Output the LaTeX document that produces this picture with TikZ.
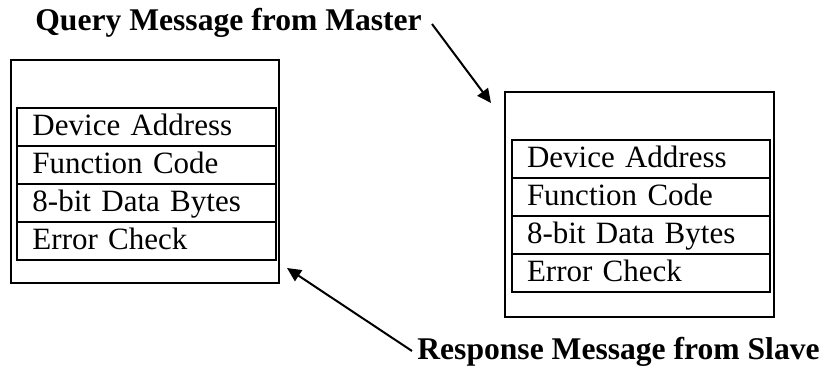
\documentclass[tikz,border=0pt]{standalone}
\usepackage{fontspec}
\setmainfont{Liberation Serif}
\usetikzlibrary{arrows.meta}
\begin{document}
\begin{tikzpicture}[x=0.5pt,y=-0.5pt,
  outerbox/.style={draw, line width=0.9pt, minimum width=#1, anchor=north west, inner sep=0pt},
  rowbox/.style={draw, line width=1pt, anchor=north west, minimum width=129.5pt, minimum height=19pt,
    inner ysep=0pt, inner xsep=7.5pt, text width=114pt, align=left, text height=12pt, text depth=3pt,
    font=\fontsize{15.5}{18}\selectfont},
  title/.style={anchor=base west, inner sep=0pt, font=\fontsize{15.8}{18}\selectfont\bfseries},
  arrowline/.style={line width=1pt, -{Triangle[length=7pt,width=6.5pt]}}]
\useasboundingbox (0,0) rectangle (827,369);
% left message frame
\node[outerbox=134pt, minimum height=111.5pt] (L) at (10,59) {};
\node[rowbox] (L1) at (16,107) {Device Address};
\node[rowbox] (L2) at (16,145) {Function Code};
\node[rowbox] (L3) at (16,183) {8-bit Data Bytes};
\node[rowbox] (L4) at (16,221) {Error Check};
% right message frame
\node[outerbox=134.5pt, minimum height=112.5pt] (R) at (504,91) {};
\node[rowbox, minimum width=129pt] (R1) at (511,139) {Device Address};
\node[rowbox, minimum width=129pt] (R2) at (511,177) {Function Code};
\node[rowbox, minimum width=129pt] (R3) at (511,215) {8-bit Data Bytes};
\node[rowbox, minimum width=129pt] (R4) at (511,253) {Error Check};
% titles
\node[title] (Q) at (35,31) {Query Message from Master};
\node[title] (S) at (417,360) {Response Message from Slave};
% arrows
\coordinate (qs) at (432,24);
\coordinate (qe) at (491,103);
\coordinate (ss) at (412,351);
\coordinate (se) at (287,268);
\draw[arrowline] (qs) -- (qe);
\draw[arrowline] (ss) -- (se);
\end{tikzpicture}
\end{document}
